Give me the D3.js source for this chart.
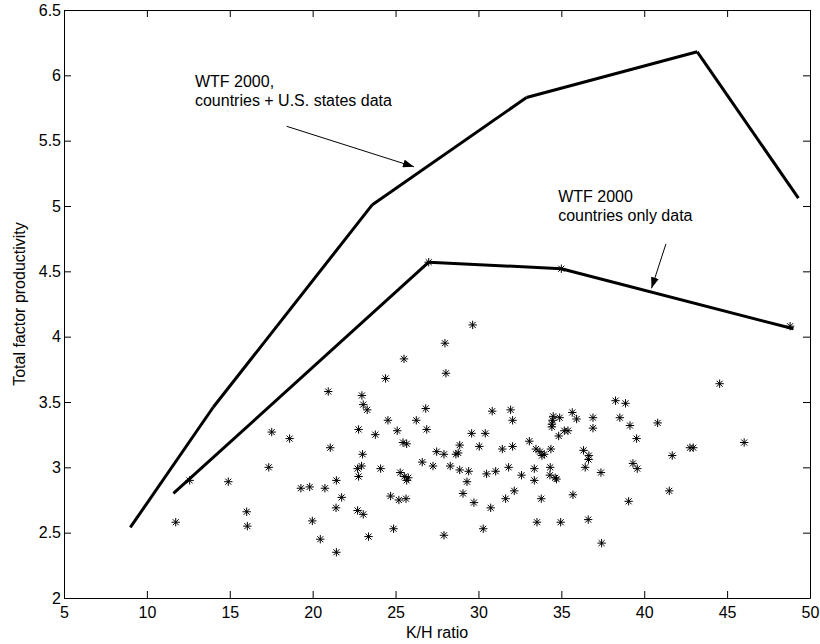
<!DOCTYPE html>
<html>
<head>
<meta charset="utf-8">
<script src="https://cdn.jsdelivr.net/npm/d3@7"></script>
<style>
  body { margin: 0; background: #fff; }
  svg text { font-family: "Liberation Sans", Arial, Helvetica, sans-serif; font-size: 16px; fill: #000; }
  .axis path, .axis line { stroke: #000; stroke-width: 1; }
</style>
</head>
<body>
<div id="chart"></div>
<script>
// scatter: K/H ratio vs total factor productivity
const khRatio = [
  11.74, 12.58, 14.91, 16.02, 16.06, 17.35, 17.53, 18.61, 19.29, 19.82,
  19.98, 20.46, 20.74, 20.94, 21.06, 21.43, 21.43, 21.41, 21.75, 22.77,
  22.71, 22.97, 23.05, 23.29, 23.01, 22.95, 22.71, 22.77, 23.05, 23.37,
  23.78, 24.10, 24.40, 24.54, 24.70, 24.88, 25.10, 25.20, 25.28, 25.51,
  25.45, 25.67, 25.53, 25.77, 25.67, 25.63,
  29.65, 27.98, 28.04, 26.82, 26.25, 26.88, 30.83, 31.94, 32.06, 29.59,
  30.41, 33.07, 28.87, 30.05, 31.44, 32.06, 27.48, 27.92, 28.64, 28.78,
  26.61, 27.26, 28.30, 28.87, 29.41, 30.49, 31.04, 31.82, 32.60, 29.31,
  29.07, 32.16, 31.64, 29.73, 30.74, 30.29, 27.92,
  33.47, 33.71, 33.83, 33.97, 34.37, 33.37, 33.37, 34.33, 34.31, 34.63,
  34.71, 33.79, 33.53, 34.96, 35.70, 36.62, 37.43, 34.51, 34.47, 34.43,
  34.43, 34.90, 34.84, 35.18, 35.40, 35.66, 35.92, 36.91, 36.91, 36.34,
  36.66, 36.64, 36.44, 37.39, 38.27, 38.87, 38.53, 39.14, 39.54, 40.81,
  39.32, 39.58, 39.06, 41.69, 41.51, 42.76, 42.96, 44.55, 46.03,
  27.0, 35.0, 48.8
];
const tfp = [
  2.58, 2.90, 2.89, 2.66, 2.55, 3.00, 3.27, 3.22, 2.84, 2.85,
  2.59, 2.45, 2.84, 3.58, 3.15, 2.35, 2.90, 2.69, 2.77, 3.29,
  2.67, 3.55, 3.48, 3.44, 3.10, 3.01, 2.99, 2.93, 2.64, 2.47,
  3.25, 2.99, 3.68, 3.36, 2.78, 2.53, 3.28, 2.75, 2.96, 3.83,
  3.19, 3.18, 2.93, 2.92, 2.90, 2.76,
  4.09, 3.95, 3.72, 3.45, 3.36, 3.29, 3.43, 3.44, 3.36, 3.26,
  3.26, 3.20, 3.17, 3.16, 3.14, 3.16, 3.12, 3.10, 3.10, 3.11,
  3.04, 3.01, 3.01, 2.98, 2.97, 2.95, 2.97, 3.00, 2.94, 2.89,
  2.80, 2.82, 2.76, 2.73, 2.69, 2.53, 2.48,
  3.14, 3.12, 3.09, 3.10, 3.14, 2.99, 2.90, 3.00, 2.94, 2.92,
  2.91, 2.76, 2.58, 2.58, 2.79, 2.60, 2.42, 3.39, 3.36, 3.33,
  3.31, 3.38, 3.24, 3.28, 3.28, 3.42, 3.37, 3.38, 3.30, 3.13,
  3.09, 3.06, 3.00, 2.96, 3.51, 3.49, 3.38, 3.32, 3.22, 3.34,
  3.03, 2.99, 2.74, 3.09, 2.82, 3.15, 3.15, 3.64, 3.19,
  4.57, 4.52, 4.08
];

// WTF 2000, countries + U.S. states data
const allX = [9.0, 14.0, 23.6, 32.9, 43.2, 49.3];
const allY = [2.54, 3.46, 5.01, 5.83, 6.18, 5.06];
// WTF 2000, countries only data
const ctryX = [11.6, 27.0, 35.0, 49.0];
const ctryY = [2.80, 4.57, 4.52, 4.06];

const xTicks = [5, 10, 15, 20, 25, 30, 35, 40, 45, 50];
const yTicks = [2, 2.5, 3, 3.5, 4, 4.5, 5, 5.5, 6, 6.5];

const W = 820, H = 644;
const margin = { top: 10, right: 10, bottom: 46, left: 64 };

const svg = d3.select("#chart").append("svg")
  .attr("width", W)
  .attr("height", H);

const x = d3.scaleLinear().domain([5, 50]).range([margin.left, W - margin.right]);
const y = d3.scaleLinear().domain([2, 6.5]).range([H - margin.bottom, margin.top]);

// axes box, ticks pointing inward
svg.append("g").attr("class", "axis")
  .attr("transform", `translate(0,${y(2)})`)
  .call(d3.axisBottom(x).tickValues(xTicks).tickFormat(d3.format("d"))
    .tickSizeInner(-7).tickSizeOuter(0).tickPadding(9))
  .call(g => g.selectAll("text").attr("font-size", null).attr("font-family", null));

svg.append("g").attr("class", "axis")
  .attr("transform", `translate(0,${y(6.5)})`)
  .call(d3.axisTop(x).tickValues(xTicks).tickFormat("")
    .tickSizeInner(-7).tickSizeOuter(0));

svg.append("g").attr("class", "axis")
  .attr("transform", `translate(${x(5)},0)`)
  .call(d3.axisLeft(y).tickValues(yTicks).tickFormat(d3.format("~g"))
    .tickSizeInner(-7).tickSizeOuter(0).tickPadding(3))
  .call(g => g.selectAll("text").attr("font-size", null).attr("font-family", null));

svg.append("g").attr("class", "axis")
  .attr("transform", `translate(${x(50)},0)`)
  .call(d3.axisRight(y).tickValues(yTicks).tickFormat("")
    .tickSizeInner(-7).tickSizeOuter(0));

svg.selectAll(".axis").attr("font-size", null).attr("font-family", null);

// axis titles
svg.append("text")
  .attr("x", (x(5) + x(50)) / 2)
  .attr("y", 638)
  .attr("text-anchor", "middle")
  .text("K/H ratio");

svg.append("text")
  .attr("transform", `translate(25,${(y(2) + y(6.5)) / 2}) rotate(-90)`)
  .attr("text-anchor", "middle")
  .text("Total factor productivity");

// asterisk marker like matlab's '*'
function asterisk(r) {
  const d = r * 0.72;
  return `M${-r},0L${r},0M0,${-r}L0,${r}M${-d},${-d}L${d},${d}M${-d},${d}L${d},${-d}`;
}

svg.append("g")
  .selectAll("path")
  .data(khRatio.map((k, i) => ({ k: k, t: tfp[i] })))
  .enter().append("path")
  .attr("transform", d => `translate(${x(d.k)},${y(d.t)})`)
  .attr("d", asterisk(4.2))
  .attr("fill", "none")
  .attr("stroke", "#000")
  .attr("stroke-width", 1);

// the two curves, drawn segment by segment (butt ends leave small notches)
function drawSegments(xs, ys) {
  const segs = d3.pairs(xs.map((v, i) => [v, ys[i]]));
  svg.append("g")
    .selectAll("line")
    .data(segs)
    .enter().append("line")
    .attr("x1", d => x(d[0][0]))
    .attr("y1", d => y(d[0][1]))
    .attr("x2", d => x(d[1][0]))
    .attr("y2", d => y(d[1][1]))
    .attr("stroke", "#000")
    .attr("stroke-width", 3)
    .attr("stroke-linecap", "butt");
}
drawSegments(allX, allY);
drawSegments(ctryX, ctryY);

// annotations
svg.append("defs").append("marker")
  .attr("id", "head")
  .attr("markerUnits", "userSpaceOnUse")
  .attr("viewBox", "0 0 11 8")
  .attr("refX", 11).attr("refY", 4)
  .attr("markerWidth", 11).attr("markerHeight", 8)
  .attr("orient", "auto")
  .append("path")
  .attr("d", "M0,0L11,4L0,8Z")
  .attr("fill", "#000");

const notes = [
  { lines: ["WTF 2000,", "countries + U.S. states data"], tx: 12.9, ty: 5.907, ax: [18.43, 5.61], at: [26.11, 5.30] },
  { lines: ["WTF 2000", "countries only data"], tx: 34.81, ty: 5.03, ax: [41.31, 4.71], at: [40.44, 4.37] }
];

notes.forEach(n => {
  const t = svg.append("text").attr("x", x(n.tx)).attr("y", y(n.ty));
  n.lines.forEach((s, i) => {
    t.append("tspan").attr("x", x(n.tx)).attr("dy", i ? 19 : 0).text(s);
  });
  svg.append("line")
    .attr("x1", x(n.ax[0])).attr("y1", y(n.ax[1]))
    .attr("x2", x(n.at[0])).attr("y2", y(n.at[1]))
    .attr("stroke", "#000")
    .attr("stroke-width", 1)
    .attr("marker-end", "url(#head)");
});
</script>
</body>
</html>
